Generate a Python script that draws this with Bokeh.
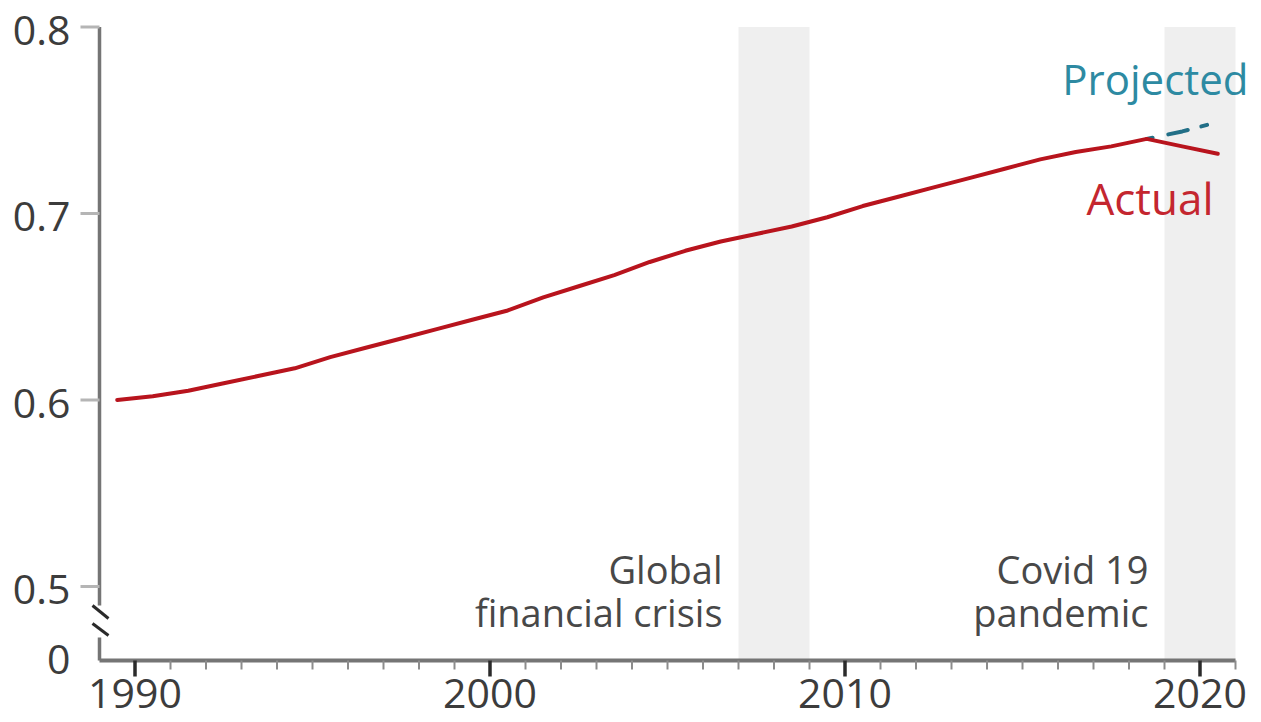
from bokeh.plotting import figure
from bokeh.models import Range1d
from bokeh.core.properties import value
from bokeh.embed import file_html
from bokeh.resources import INLINE

# ---- data ----
years = list(range(1990, 2022))
actual = [0.600, 0.602, 0.605, 0.609, 0.613, 0.617, 0.623, 0.628, 0.633, 0.638,
          0.643, 0.648, 0.655, 0.661, 0.667, 0.674, 0.680, 0.685, 0.689, 0.693,
          0.698, 0.704, 0.709, 0.714, 0.719, 0.724, 0.729, 0.733, 0.736, 0.740,
          0.736, 0.732]
proj_years = [2019, 2020, 2021]
projected = [0.740, 0.744, 0.749]
shade_periods = [(2007, 2009), (2019, 2021)]
shade_labels = [("Global", "financial crisis"), ("Covid 19", "pandemic")]
y_ticks = [0.5, 0.6, 0.7, 0.8]
y_tick_labels = ["0.5", "0.6", "0.7", "0.8"]
x_ticks = [1990, 2000, 2010, 2020]
x_tick_labels = ["1990", "2000", "2010", "2020"]
x_minor = list(range(1991, 2022))

# ---- scale geometry ----
W, H = 1261, 722
X0, X1 = 1989.0, 2021.0          # extent of the x axis
YTOP = 0.8                        # top of the y axis
PX = 1 / 35.5                     # years per pixel
PY = 1 / 1865.0                   # index units per pixel
LEFT, TOP = 99, 26.5              # where X0 / YTOP sit on the canvas
YBASE = YTOP - 633.5 * PY         # level of the (broken) x axis, labelled "0"

x_range = Range1d(X0 - LEFT * PX, X0 + (W - LEFT) * PX)
y_range = Range1d(YTOP - (H - TOP) * PY, YTOP + TOP * PY)

FONT = value("Open Sans")
RED = "#b8141d"
TEAL = "#226f87"
AXIS = "#757575"
TXT = "#3c3c3c"

p = figure(width=W, height=H, output_backend="svg", toolbar_location=None,
           x_range=x_range, y_range=y_range,
           x_axis_location=None, y_axis_location=None,
           min_border=0)
p.outline_line_color = None
p.grid.visible = False
p.background_fill_color = "white"

# shaded periods
p.quad(left=[a for a, b in shade_periods], right=[b for a, b in shade_periods],
       bottom=YBASE, top=YTOP, fill_color="#efefef", line_color=None)

# series
xa = [y - 0.5 for y in years]
xp = [y - 0.5 for y in proj_years]
p.line(xp, projected, line_color=TEAL, line_width=4, line_dash="6 16 20 14",
       line_cap="round")
p.line(xa, actual, line_color=RED, line_width=4, line_cap="round",
       line_join="round")

# ---- x axis ----
p.segment(x0=X0, y0=YBASE, x1=X1, y1=YBASE, line_color=AXIS, line_width=4)
p.segment(x0=x_minor, y0=YBASE, x1=x_minor, y1=YBASE - 9 * PY,
          line_color="#8c8c8c", line_width=2)
p.segment(x0=x_ticks, y0=YBASE, x1=x_ticks, y1=YBASE - 16 * PY,
          line_color="#2a2a2a", line_width=3.5)
p.text(x=x_ticks, y=YBASE - 33 * PY, text=x_tick_labels, text_align="center",
       text_baseline="middle", text_font=FONT, text_font_size="41px",
       text_color=TXT)

# ---- y axis (with break) ----
brk_top = YTOP - 578.5 * PY
brk_bot = YTOP - 610.5 * PY
p.segment(x0=[X0, X0], y0=[YTOP, brk_bot], x1=[X0, X0], y1=[brk_top, YBASE],
          line_color=AXIS, line_width=3.5)
p.segment(x0=X0 - 19 * PX, y0=y_ticks, x1=X0, y1=y_ticks,
          line_color="#b5b5b5", line_width=3)
p.text(x=X0 - 29 * PX, y=[t - 3 * PY for t in y_ticks], text=y_tick_labels,
       text_align="right", text_baseline="middle", text_font=FONT,
       text_font_size="41px", text_color=TXT)
p.text(x=[X0 - 29 * PX], y=[YBASE + 1 * PY], text=["0"], text_align="right",
       text_baseline="middle", text_font=FONT, text_font_size="41px",
       text_color=TXT)
# break marks
p.segment(x0=[X0 - 7 * PX, X0 - 7 * PX], y0=[brk_top, brk_top - 18 * PY],
          x1=[X0 + 9 * PX, X0 + 9 * PX], y1=[brk_top - 13 * PY, brk_top - 30 * PY],
          line_color="#2a2a2a", line_width=3)

# period labels
for (a, b), (l1, l2) in zip(shade_periods, shade_labels):
    p.text(x=[a - 16 * PX, a - 16 * PX], y=[YTOP - 541.5 * PY, YTOP - 584.5 * PY],
           text=[l1, l2], text_align="right", text_baseline="middle",
           text_font=FONT, text_font_size="38px", text_color="#484848")

# series labels
p.text(x=[X1 + 13 * PX], y=[YTOP - 51 * PY], text=["Projected"],
       text_align="right", text_baseline="middle", text_font=FONT,
       text_font_size="42px", text_color="#2d8aa2")
p.text(x=[X1 - 22 * PX], y=[YTOP - 171 * PY], text=["Actual"],
       text_align="right", text_baseline="middle", text_font=FONT,
       text_font_size="44px", text_color="#c4262f")

open("out.html", "w").write(file_html(p, INLINE))
